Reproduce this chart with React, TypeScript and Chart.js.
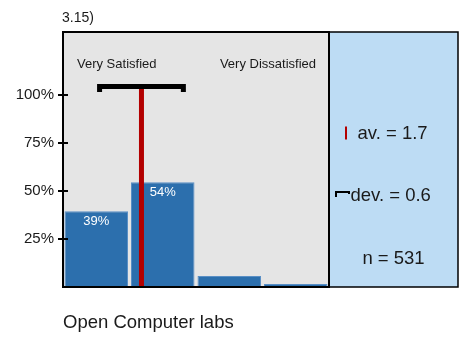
import React, { useEffect, useRef } from "react";
import { Chart, registerables } from "chart.js";

Chart.register(...registerables);

// ---- data ----
const categories = ["Very Satisfied", "Satisfied", "Dissatisfied", "Very Dissatisfied"];
const percentValues = [39.4, 54.4, 5.7, 1.6];
const yTickValues = [25, 50, 75, 100];
const meanValue = 1.68;
const stdDev = 0.63;
const sampleSize = 531;
const titleText = "3.15)";
const footerText = "Open Computer labs";
const leftEndLabel = "Very Satisfied";
const rightEndLabel = "Very Dissatisfied";

// ---- styling constants ----
const FONT = '"Liberation Sans", Arial, Helvetica, sans-serif';
const TEXT = "#1a1a1a";
const BAR = "#2c6fad";
const BAR_EDGE = "#5a8fc5";
const PLOT_BG = "#e5e5e5";
const PANEL_BG = "#bddcf4";
const MEAN_RED = "#b30000";
const Y_MAX = 132.5;
const MEAN_TOP = 103;
const BRACKET_Y = 104.2;
const BRACKET_FOOT = 101.3;
const PANEL_WIDTH = 129;

const decorPlugin = {
  id: "decor",
  beforeDraw(chart: any) {
    const { ctx, chartArea: a } = chart;
    ctx.save();
    ctx.fillStyle = PLOT_BG;
    ctx.fillRect(a.left, a.top, a.right - a.left, a.bottom - a.top);
    ctx.fillStyle = PANEL_BG;
    ctx.fillRect(a.right, a.top, PANEL_WIDTH, a.bottom - a.top);
    ctx.restore();
  },
  afterDraw(chart: any) {
    const { ctx, chartArea: a } = chart;
    const yScale = chart.scales.y;
    ctx.save();
    // frame
    ctx.strokeStyle = "#000";
    ctx.lineWidth = 2;
    ctx.strokeRect(a.left, a.top, a.right - a.left, a.bottom - a.top);
    ctx.lineWidth = 1.5;
    ctx.strokeRect(a.right, a.top, PANEL_WIDTH, a.bottom - a.top);
    // y ticks crossing the axis
    ctx.lineWidth = 2;
    ctx.beginPath();
    yScale.ticks.forEach((t: any) => {
      const py = Math.round(yScale.getPixelForValue(t.value));
      ctx.moveTo(a.left - 5, py);
      ctx.lineTo(a.left + 5, py);
    });
    ctx.stroke();

    // bar value labels
    const meta = chart.getDatasetMeta(0);
    ctx.fillStyle = "#ffffff";
    ctx.font = `13px ${FONT}`;
    ctx.textAlign = "center";
    ctx.textBaseline = "middle";
    meta.data.forEach((el: any, i: number) => {
      const v = percentValues[i];
      if (v >= 10) ctx.fillText(`${Math.round(v)}%`, el.x, el.y + 10);
    });

    // end labels
    ctx.fillStyle = TEXT;
    ctx.textBaseline = "alphabetic";
    ctx.font = `13px ${FONT}`;
    ctx.textAlign = "left";
    ctx.fillText(leftEndLabel, a.left + 14, 68);
    ctx.textAlign = "right";
    ctx.fillText(rightEndLabel, a.right - 13, 68);

    // title / footer
    ctx.textAlign = "left";
    ctx.font = `14px ${FONT}`;
    ctx.fillText(titleText, a.left - 1, 21.5);
    ctx.font = `18.5px ${FONT}`;
    ctx.fillText(footerText, a.left, 328);

    // stats panel
    const px = a.right;
    ctx.font = `18.5px ${FONT}`;
    ctx.fillText(`av. = ${meanValue.toFixed(1)}`, px + 28.5, 139);
    ctx.fillText(`dev. = ${stdDev.toFixed(1)}`, px + 21.5, 201);
    ctx.textAlign = "center";
    ctx.fillText(`n = ${sampleSize}`, px + PANEL_WIDTH / 2, 264);

    // legend glyphs
    ctx.strokeStyle = MEAN_RED;
    ctx.lineWidth = 2;
    ctx.beginPath();
    ctx.moveTo(px + 17, 126.5);
    ctx.lineTo(px + 17, 139.5);
    ctx.stroke();
    ctx.strokeStyle = "#000";
    ctx.beginPath();
    ctx.moveTo(px + 7, 197);
    ctx.lineTo(px + 7, 192);
    ctx.lineTo(px + 20, 192);
    ctx.lineTo(px + 20, 194);
    ctx.stroke();
    ctx.restore();
  },
};

export default function App() {
  const ref = useRef<HTMLCanvasElement | null>(null);

  useEffect(() => {
    if (!ref.current) return;
    const chart = new Chart(ref.current, {
      type: "bar",
      data: {
        labels: categories,
        datasets: [
          {
            type: "bar",
            data: percentValues,
            backgroundColor: BAR,
            borderColor: BAR_EDGE,
            borderWidth: 1,
            barPercentage: 0.955,
            categoryPercentage: 1,
            grouped: false,
            xAxisID: "x",
            yAxisID: "y",
            order: 3,
          } as any,
          {
            type: "line",
            data: [
              { x: meanValue, y: 0 },
              { x: meanValue, y: MEAN_TOP },
            ],
            borderColor: MEAN_RED,
            borderWidth: 5,
            borderCapStyle: "butt",
            pointRadius: 0,
            fill: false,
            xAxisID: "x2",
            yAxisID: "y",
            order: 2,
          } as any,
          {
            type: "line",
            data: [
              { x: meanValue - stdDev, y: BRACKET_FOOT },
              { x: meanValue - stdDev, y: BRACKET_Y },
              { x: meanValue + stdDev, y: BRACKET_Y },
              { x: meanValue + stdDev, y: BRACKET_FOOT },
            ],
            borderColor: "#000",
            borderWidth: 5,
            borderCapStyle: "butt",
            borderJoinStyle: "miter",
            pointRadius: 0,
            fill: false,
            tension: 0,
            xAxisID: "x2",
            yAxisID: "y",
            order: 1,
          } as any,
        ],
      },
      options: {
        animation: false,
        responsive: false,
        devicePixelRatio: 1,
        layout: { padding: { left: 0, top: 32, right: 137, bottom: 54 } },
        plugins: { legend: { display: false }, tooltip: { enabled: false }, title: { display: false } },
        scales: {
          x: { type: "category", display: false, offset: true },
          x2: { type: "linear", display: false, min: 0.5, max: 4.5, offset: false, grid: { offset: false } },
          y: {
            min: 0,
            max: Y_MAX,
            afterFit: (s: any) => {
              s.width = 63;
            },
            afterBuildTicks: (s: any) => {
              s.ticks = yTickValues.map((v) => ({ value: v }));
            },
            grid: { display: false, drawTicks: false, tickLength: 0 },
            border: { display: false },
            ticks: {
              padding: 9,
              color: TEXT,
              font: { family: FONT, size: 15 },
              callback: (v: any) => `${v}%`,
            },
          },
        },
      } as any,
      plugins: [decorPlugin],
    });
    return () => chart.destroy();
  }, []);

  return (
    <div style={{ position: "absolute", left: 0, top: 0, width: 466, height: 341, background: "#fff" }}>
      <canvas ref={ref} width={466} height={341} style={{ display: "block" }} />
    </div>
  );
}
